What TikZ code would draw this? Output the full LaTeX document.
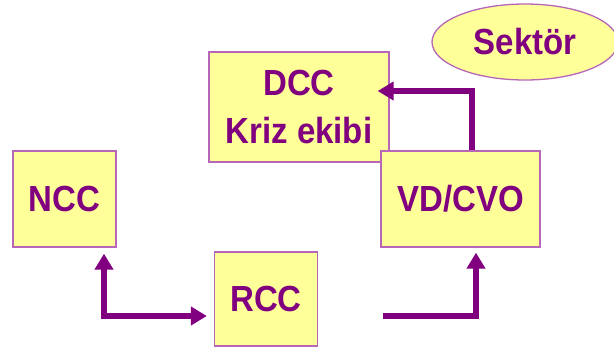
\documentclass[tikz,border=0pt]{standalone}
\usepackage{fontspec}
\usepackage{graphicx}
\setmainfont{Liberation Sans}
\usetikzlibrary{arrows.meta,shapes.geometric}
\definecolor{boxfill}{HTML}{FFFF99}
\definecolor{boxline}{HTML}{B866B8}
\definecolor{plum}{HTML}{800080}
\newcommand{\tall}[1]{\scalebox{1}[1.1]{#1}}
\begin{document}
\begin{tikzpicture}[x=1pt,y=-1pt,
  unit/.style={draw=boxline, line width=1.3pt, fill=boxfill, text=plum,
    font=\fontsize{33}{48}\selectfont\bfseries, align=center, inner sep=0pt},
  flow/.style={draw=plum, line width=5.5pt, -{Triangle[width=18pt,length=16pt]}}]

\useasboundingbox (0,0) rectangle (614,349);

\node[unit, minimum width=180pt, minimum height=110pt] (dcc) at (299,107) {\tall{DCC}\\\tall{Kriz ekibi}};
\node[unit, minimum width=103pt, minimum height=96pt] (ncc) at (64.5,199) {\tall{NCC}};
\node[unit, minimum width=159pt, minimum height=96pt] (vd) at (460.5,199) {\tall{VD/CVO}};
\node[unit, minimum width=103pt, minimum height=94pt] (rcc) at (266,299) {\tall{RCC}};
\node[unit, ellipse, minimum width=186pt, minimum height=76pt] (sektor) at (525,42) {\tall{Sektör}};

\coordinate (upbend) at (472,91);
\coordinate (nccbend) at (104,316);
\coordinate (vdstart) at (383,316);
\coordinate (vdbend) at (476,316);

\draw[flow, shorten >=-12pt] (upbend |- vd.north) -- (upbend) -- (upbend -| dcc.east);
\draw[flow, {Triangle[width=18pt,length=16pt]}-{Triangle[width=18pt,length=16pt]},
  shorten <=6pt, shorten >=7pt] (nccbend |- ncc.south) -- (nccbend) -- (nccbend -| rcc.west);
\draw[flow, shorten >=5pt] (vdstart) -- (vdbend) -- (vdbend |- vd.south);
\end{tikzpicture}
\end{document}
